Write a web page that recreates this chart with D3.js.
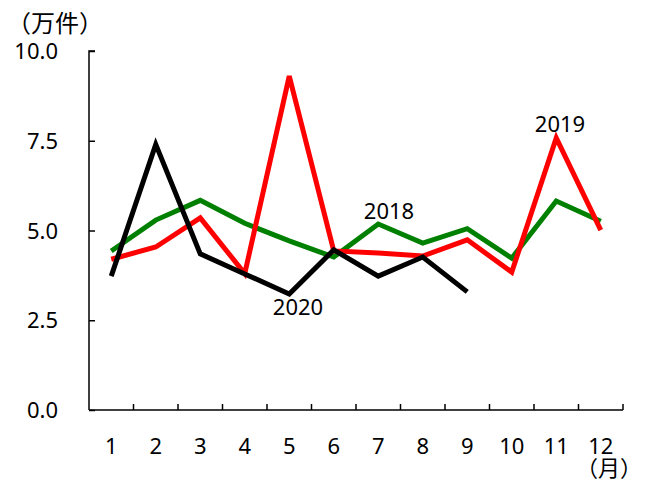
<!DOCTYPE html>
<html>
<head>
  <meta charset="utf-8">
  <script src="https://d3js.org/d3.v7.min.js"></script>
  <style>
    body { margin: 0; background: #fff; }
    text { font-family: "Noto Sans", "Noto Sans CJK JP", sans-serif; fill: #000; }
    .line { fill: none; stroke-width: 5px; stroke-linejoin: miter; }
  </style>
</head>
<body>
  <div id="chart"></div>
  <script>
    // months on x axis
    const months = ["1", "2", "3", "4", "5", "6", "7", "8", "9", "10", "11", "12"];
    // values in 万件
    const y2018 = [4.43, 5.29, 5.84, 5.2, 4.71, 4.26, 5.18, 4.65, 5.05, 4.23, 5.82, 5.26];
    const y2019 = [4.2, 4.54, 5.35, 3.8, 9.3, 4.43, 4.37, 4.29, 4.74, 3.84, 7.58, 5.01];
    const y2020 = [3.73, 7.4, 4.35, 3.79, 3.23, 4.46, 3.73, 4.26, 3.29];
    const yTicks = [0, 2.5, 5, 7.5, 10];

    const width = 645, height = 482;
    const svg = d3.select("#chart").append("svg")
      .attr("width", width)
      .attr("height", height);

    const x = d3.scaleBand().domain(months).range([89, 623]);
    const y = d3.scaleLinear().domain([0, 10]).range([410, 51]);

    // Y axis, ticks inside
    const yAxis = svg.append("g")
      .attr("transform", "translate(89,0)")
      .call(d3.axisRight(y).tickValues(yTicks).tickSize(6).tickFormat(""));
    yAxis.select(".domain").attr("stroke", "#000").attr("stroke-width", 1.5).attr("d", "M6,51H0V410");
    yAxis.selectAll(".tick line").attr("stroke-width", 1.5);

    svg.append("g").selectAll("text")
      .data(yTicks)
      .join("text")
        .attr("x", 58)
        .attr("y", d => y(d) + 8)
        .attr("text-anchor", "end")
        .style("font-size", "22px")
        .text(d => d.toFixed(1));

    // X axis with ticks between months pointing up
    const xg = svg.append("g").attr("transform", "translate(0,410)");
    xg.append("line")
      .attr("x1", 89).attr("x2", 623)
      .attr("stroke", "#000").attr("stroke-width", 1.5);
    xg.selectAll(".xt")
      .data(months)
      .join("line")
        .attr("class", "xt")
        .attr("x1", d => x(d) + x.bandwidth())
        .attr("x2", d => x(d) + x.bandwidth())
        .attr("y1", 0).attr("y2", -6)
        .attr("stroke", "#000").attr("stroke-width", 1.5);
    xg.selectAll("text")
      .data(months)
      .join("text")
        .attr("x", d => x(d) + x.bandwidth() / 2)
        .attr("y", 44)
        .attr("text-anchor", "middle")
        .style("font-size", "22px")
        .text(d => d);

    const line = d3.line()
      .x((d, i) => x(months[i]) + x.bandwidth() / 2)
      .y(d => y(d));

    const series = [
      { name: "2018", values: y2018, color: "#008000" },
      { name: "2019", values: y2019, color: "#ff0000" },
      { name: "2020", values: y2020, color: "#000000" }
    ];

    svg.selectAll(".line")
      .data(series)
      .join("path")
        .attr("class", "line")
        .attr("stroke", d => d.color)
        .attr("d", d => line(d.values));

    // series labels
    const labels = [
      { text: "2018", x: 389, y: 219 },
      { text: "2019", x: 560, y: 132 },
      { text: "2020", x: 298, y: 315 }
    ];
    svg.selectAll(".lbl")
      .data(labels)
      .join("text")
        .attr("class", "lbl")
        .attr("x", d => d.x)
        .attr("y", d => d.y)
        .attr("text-anchor", "middle")
        .style("font-size", "22px")
        .text(d => d.text);

    // units
    svg.append("text")
      .attr("x", 7).attr("y", 32)
      .style("font-size", "24px")
      .style("font-family", "'Noto Sans CJK JP'")
      .text("（万件）");
    svg.append("text")
      .attr("x", 576).attr("y", 476)
      .style("font-size", "22px")
      .style("font-family", "'Noto Sans CJK JP'")
      .text("（月）");
  </script>
</body>
</html>
